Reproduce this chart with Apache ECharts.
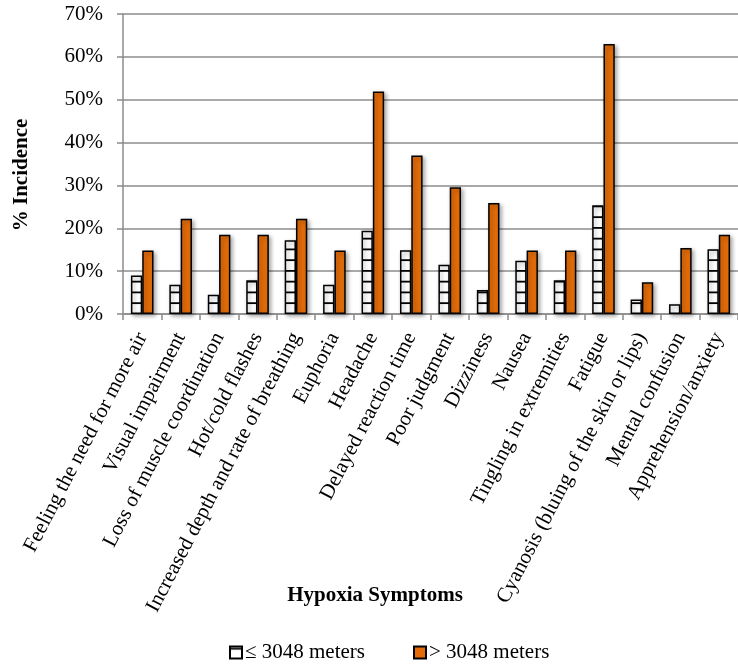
<!DOCTYPE html>
<html>
<head>
<meta charset="utf-8">
<script src="https://cdn.jsdelivr.net/npm/echarts@6/dist/echarts.min.js"></script>
<style>
html,body{margin:0;padding:0;background:#fff;}
#chart{width:738px;height:664px;}
</style>
</head>
<body>
<div id="chart"></div>
<script>
var categories = [
  'Feeling the need for more air',
  'Visual impairment',
  'Loss of muscle coordination',
  'Hot/cold flashes',
  'Increased depth and rate of breathing',
  'Euphoria',
  'Headache',
  'Delayed reaction time',
  'Poor judgment',
  'Dizziness',
  'Nausea',
  'Tingling in extremities',
  'Fatigue',
  'Cyanosis (bluing of the skin or lips)',
  'Mental confusion',
  'Apprehension/anxiety'
];
var lowAltitude = [9.0, 6.8, 4.5, 7.9, 17.2, 6.8, 19.4, 14.9, 11.5, 5.6, 12.4, 7.9, 25.4, 3.4, 2.3, 15.1];
var highAltitude = [14.8, 22.2, 18.5, 18.5, 22.2, 14.8, 51.9, 37.0, 29.6, 25.9, 14.8, 14.8, 63.0, 7.4, 15.4, 18.5];
var seriesNames = ['\u2264 3048 meters', '> 3048 meters'];
var yTicks = [0, 10, 20, 30, 40, 50, 60, 70];

var FONT = 'Liberation Serif';

// horizontal stripe pattern
var pc = document.createElement('canvas');
pc.width = 8; pc.height = 43;
var pctx = pc.getContext('2d');
pctx.fillStyle = '#ffffff';
pctx.fillRect(0, 0, 8, 43);
pctx.fillStyle = '#000000';
[1.25, 12, 22.75, 33.5].forEach(function (y) { pctx.fillRect(0, y, 8, 1.8); });

var chart = echarts.init(document.getElementById('chart'));
var shadow = {shadowBlur: 4, shadowColor: 'rgba(0,0,0,0.35)', shadowOffsetX: 2, shadowOffsetY: 2};

chart.setOption({
  animation: false,
  backgroundColor: '#ffffff',
  title: {
    text: 'Hypoxia Symptoms',
    left: 370,
    top: 580,
    textAlign: 'center',
    textStyle: {fontFamily: FONT, fontWeight: 'bold', fontSize: 21, color: '#000'}
  },
  graphic: [{
    type: 'text',
    x: 22, y: 175,
    rotation: Math.PI / 2,
    style: {
      text: '% Incidence',
      font: 'bold 21px "Liberation Serif"',
      fill: '#000',
      textAlign: 'center',
      textVerticalAlign: 'middle'
    }
  }],
  legend: {
    left: 224,
    top: 637,
    itemWidth: 12,
    itemHeight: 12,
    itemGap: 48,
    icon: 'rect',
    textStyle: {fontFamily: FONT, fontSize: 21, color: '#000', padding: [0, 0, 0, -2]},
    data: seriesNames
  },
  grid: {left: 123, top: 14, width: 622, height: 300, containLabel: false},
  xAxis: {
    type: 'category',
    data: categories,
    boundaryGap: true,
    axisLine: {show: true, lineStyle: {color: '#8c8c8c', width: 1.5}},
    axisTick: {show: true, length: 6, interval: 0, lineStyle: {color: '#8c8c8c', width: 1.5}},
    axisLabel: {
      interval: 0,
      rotate: 62.5,
      margin: 20,
      fontFamily: FONT,
      fontSize: 21,
      color: '#000'
    },
    splitLine: {show: false}
  },
  yAxis: {
    type: 'value',
    min: yTicks[0],
    max: yTicks[yTicks.length - 1],
    interval: 10,
    axisLine: {show: true, lineStyle: {color: '#8c8c8c', width: 1.5}},
    axisTick: {show: true, length: 6, lineStyle: {color: '#8c8c8c', width: 1.5}},
    axisLabel: {
      formatter: '{value}%',
      margin: 20,
      fontFamily: FONT,
      fontSize: 21,
      color: '#000'
    },
    splitLine: {show: true, lineStyle: {color: '#8c8c8c', width: 1.5}}
  },
  series: [
    {
      name: seriesNames[0],
      type: 'bar',
      data: lowAltitude,
      barWidth: 11.3,
      barGap: '0%',
      itemStyle: Object.assign({
        color: {image: pc, repeat: 'repeat'},
        borderColor: '#000',
        borderWidth: 1.5
      }, shadow)
    },
    {
      name: seriesNames[1],
      type: 'bar',
      data: highAltitude,
      barWidth: 11.3,
      barGap: '0%',
      itemStyle: Object.assign({
        color: '#E36C09',
        borderColor: '#000',
        borderWidth: 1.5
      }, shadow)
    }
  ]
});
</script>
</body>
</html>
